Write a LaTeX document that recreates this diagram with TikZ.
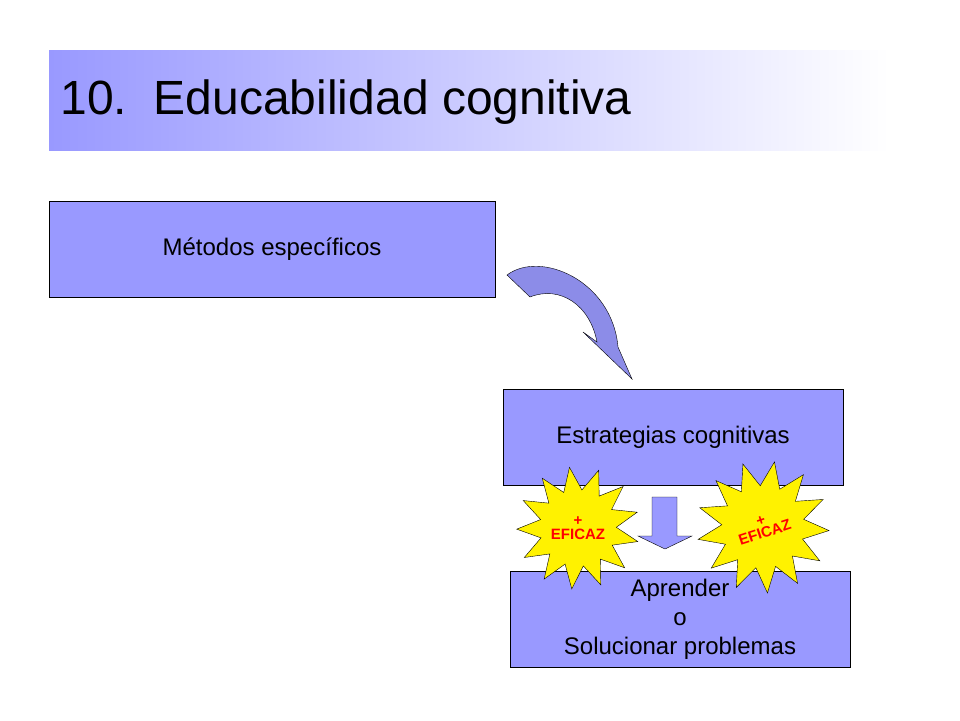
\documentclass[tikz,border=0pt]{standalone}
\usepackage{fontspec}
\setmainfont{Liberation Sans}
\usetikzlibrary{positioning,shapes.geometric,shadings}
\definecolor{boxblue}{HTML}{9999FF}
\definecolor{arrowblue}{HTML}{8C8CE8}
\tikzset{
  box/.style={draw, thin, fill=boxblue, minimum width=#1, minimum height=96pt, inner sep=0pt, font=\fontsize{24}{29}\selectfont, align=center},
  burst/.style={star, star points=13, star point ratio=1.6, minimum size=100pt, draw, fill=yellow, inner sep=0pt, font=\fontsize{15}{16}\selectfont\bfseries, text=red, align=center}
}
\begin{document}
\begin{tikzpicture}[x=1pt, y=-1pt]
    \useasboundingbox (0,0) rectangle (960,720);
    % Title band
    \shade [left color=boxblue, right color=white] (49,50) rectangle (890,150);
    \node (title) [anchor=west, font=\fontsize{48}{54}\selectfont] at (57,102) {10.\ \ Educabilidad cognitiva};
    
    % Boxes
    \node (metodos) [box=446pt] at (272,249) {Métodos específicos};
    \node (estrategias) [box=340pt] at (673,437.5) {Estrategias cognitivas};
    \node (aprender) [box=340pt] at (680,619.5) {Aprender\\o\\Solucionar problemas};
    
    % Curved arrow
    \draw [fill=arrowblue] (507,275) .. controls (540,250) and (612,280) .. (618,347) -- (632,379) -- (583,332) -- (597,342) .. controls (590,305) and (560,285) .. (530,297) -- cycle;
    
    % Down arrow
    \draw [fill=boxblue] (652,497) -- (677,497) -- (677,536) -- (692,536) -- (665,549) -- (638,536) -- (652,536) -- cycle;
    
    % Starbursts
    \node (burstleft) [burst, shape border rotate=8] at (578,528) {+\\[-2pt]EFICAZ};
    \node (burstright) [burst, shape border rotate=-10] at (763,527) {\rotatebox{18}{\shortstack{+\\EFICAZ}}};
\end{tikzpicture}
\end{document}
